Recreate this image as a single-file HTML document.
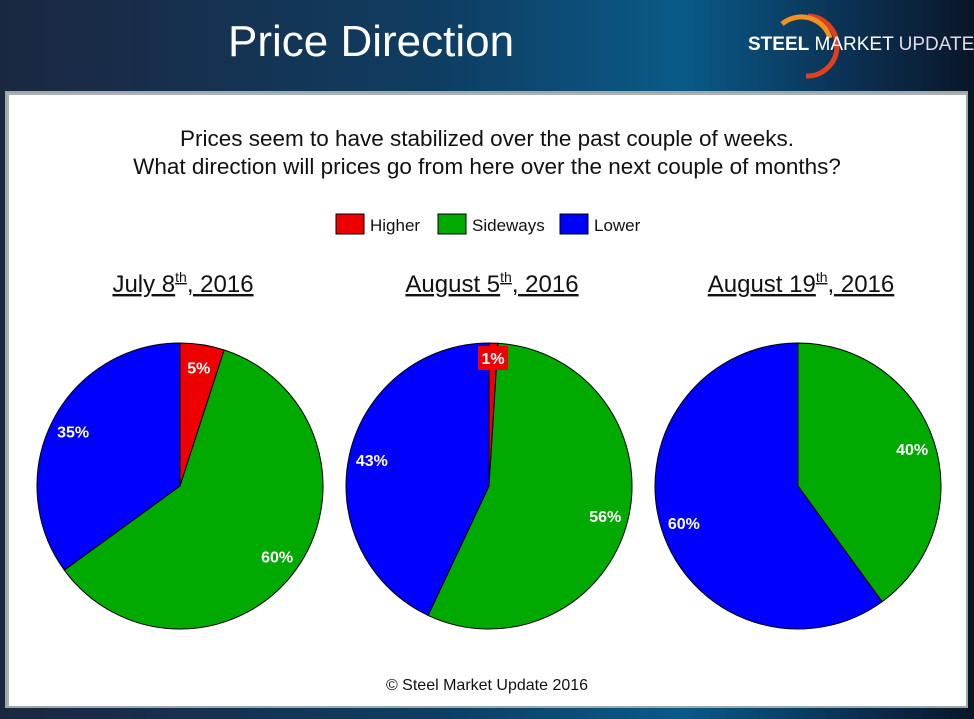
<!DOCTYPE html>
<html><head><meta charset="utf-8"><style>
body{margin:0;width:974px;height:719px;overflow:hidden;font-family:"Liberation Sans",sans-serif;
background:linear-gradient(90deg,#1b2740 0%,#0f3d62 45%,#0a5a88 70%,#0b2f50 88%,#0a1628 100%);position:relative}
#panel{position:absolute;left:7px;top:93px;width:959px;height:613px;background:#fff;box-shadow:2px 2px 0 #b0b0b0 inset,0 0 0 2px #9aa}
.t{position:absolute;white-space:nowrap}
</style></head><body>
<div class="t" style="left:228px;top:17px;font-size:44px;color:#fff">Price Direction</div>
<div style="position:absolute;left:748px;top:10px;width:226px;height:70px">
<svg width="226" height="70" style="position:absolute;left:0;top:0"><path d="M60 6 A30 30 0 0 1 58 66" stroke="#e0401c" stroke-width="5" fill="none"/><path d="M34 14 A30 30 0 0 1 82 28" stroke="#f29020" stroke-width="5" fill="none"/></svg>
<div class="t" style="left:0;top:24px;font-size:19px;color:#fff"><b>STEEL</b> MARKET <span style="color:#dde">UPDATE</span></div>
</div>
<div id="panel"></div>
<div class="t" style="left:0;width:974px;text-align:center;top:126px;font-size:22.5px;color:#111">Prices seem to have stabilized over the past couple of weeks.</div>
<div class="t" style="left:0;width:974px;text-align:center;top:154px;font-size:22.5px;color:#111">What direction will prices go from here over the next couple of months?</div>
<svg id="chart" width="974" height="719" style="position:absolute;left:0;top:0"></svg>
<div class="t" style="left:0;width:974px;text-align:center;top:677px;font-size:16px;color:#111">© Steel Market Update 2016</div>
<script>
const categories=["Higher","Sideways","Lower"];
const colors=["#ee0000","#00aa00","#0000ff"];
const titles=["July 8","August 5","August 19"];
const titleSup=["th","th","th"];
const titleYear=[", 2016",", 2016",", 2016"];
const higher=[5,1,0];
const sideways=[60,56,40];
const lower=[35,43,60];
const NS="http://www.w3.org/2000/svg";
const svg=document.getElementById('chart');
function mk(tag,attrs){const e=document.createElementNS(NS,tag);for(const k in attrs)e.setAttribute(k,attrs[k]);svg.appendChild(e);return e;}
const legX=[336,438,560];
categories.forEach((c,i)=>{
 const r=mk('rect',{x:legX[i],y:214,width:28,height:20,fill:colors[i],stroke:'#000','stroke-width':1});
 
 
 const t=mk('text',{x:legX[i]+34,y:231,'font-size':17,fill:'#111','font-family':'Liberation Sans, sans-serif'});
 t.textContent=c;
 
 
});
const cx=[180,489,798],cy=486,R=143,LR=120;
function pt(a,r,i){return [cx[i]+r*Math.sin(a),cy-r*Math.cos(a)];}
const labels=[];
for(let i=0;i<3;i++){
 const vals=[higher[i],sideways[i],lower[i]];
 const tot=vals.reduce((a,b)=>a+b,0);
 const tt=mk('text',{x:cx[i]+3,y:292,'font-size':24,fill:'#111','text-anchor':'middle','text-decoration':'underline','font-family':'Liberation Sans, sans-serif'});
 tt.innerHTML=titles[i]+'<tspan font-size="14" dy="-10">'+titleSup[i]+'</tspan><tspan dy="10">'+titleYear[i]+'</tspan>';
 
 
 let acc=0;
 vals.forEach((v,j)=>{
  if(v<=0)return;
  const a0=acc/tot*2*Math.PI,a1=(acc+v)/tot*2*Math.PI;acc+=v;
  const p0=pt(a0,R,i),p1=pt(a1,R,i);
  const large=(a1-a0)>Math.PI?1:0;
  const p=mk('path',{d:`M${cx[i]},${cy}L${p0[0]},${p0[1]}A${R},${R} 0 ${large} 1 ${p1[0]},${p1[1]}Z`,fill:colors[j],stroke:'#000','stroke-width':1});
  
  
  const m=(a0+a1)/2;
  labels.push({i,j,v,m,small:v<3});
 });
}
labels.forEach(L=>{
 const lp=pt(L.m,L.small?128:LR,L.i);
 if(L.small){
  const bg=mk('rect',{x:lp[0]-15,y:lp[1]-12,width:30,height:24,fill:colors[L.j]});
  
  
 }
 const t=mk('text',{x:lp[0],y:lp[1]+6,'font-size':16,'font-weight':'bold',fill:'#fff','text-anchor':'middle','font-family':'Liberation Sans, sans-serif'});
 t.textContent=Math.round(L.v)+'%';
 
 
});
</script>
</body></html>
